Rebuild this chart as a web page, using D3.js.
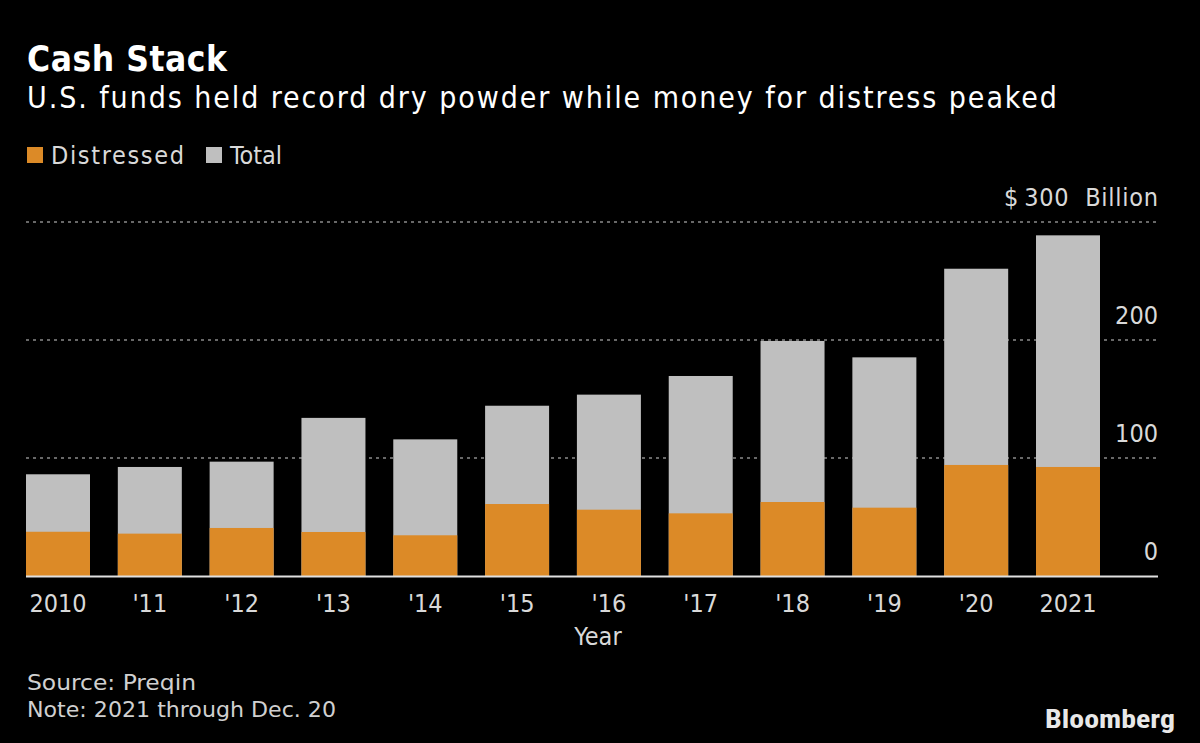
<!DOCTYPE html>
<html><head><meta charset="utf-8">
<script src="https://cdn.jsdelivr.net/npm/d3@7"></script>
<style>
html,body{margin:0;padding:0;background:#000;}
svg{display:block;}
text{font-family:"DejaVu Sans Condensed","DejaVu Sans",sans-serif;font-stretch:condensed;}
</style></head>
<body>
<svg id="chart" width="1200" height="743"></svg>
<script>
const categories = ["2010","'11","'12","'13","'14","'15","'16","'17","'18","'19","'20","2021"];
const totalValues = [86.2, 92.4, 96.9, 134, 115.8, 144.3, 153.7, 169.5, 199.2, 185.3, 260.4, 288.7];
const distressedValues = [37.5, 35.9, 40.7, 37.3, 34.5, 61, 56.2, 53.1, 62.7, 57.9, 94.1, 92.4];
const yTicks = [0, 100, 200, 300];
const seriesNames = ["Distressed", "Total"];
const seriesColors = ["#DC8A27", "#BFBFBF"];

const svg = d3.select("#chart");
svg.append("rect").attr("width",1200).attr("height",743).attr("fill","#000");

const x = d3.scaleBand().domain(categories).range([26, 1100]).paddingInner(0.303).paddingOuter(0);
const y = d3.scaleLinear().domain([0, 300]).range([576, 222]);

// Title
svg.append("text").attr("x",27).attr("y",71).attr("fill","#fff")
  .attr("font-size",35).attr("font-weight","bold")
  .attr("textLength",200).attr("lengthAdjust","spacing").text("Cash Stack");
svg.append("text").attr("x",27).attr("y",108).attr("fill","#fff")
  .attr("font-size",30).attr("textLength",1030).attr("lengthAdjust","spacing")
  .text("U.S. funds held record dry powder while money for distress peaked");

// Legend
const legendLens = [133, 52];
const leg = svg.append("g");
let lx = 27;
seriesNames.forEach((n,i)=>{
  leg.append("rect").attr("x",lx).attr("y",147).attr("width",16).attr("height",16).attr("fill",seriesColors[i]);
  leg.append("text").attr("x",lx+24).attr("y",164).attr("fill","#d9d9d9").attr("font-size",25)
    .attr("textLength",legendLens[i]).attr("lengthAdjust","spacing").text(n);
  lx += 24 + legendLens[i] + 22;
});

// Gridlines
const grid = svg.append("g");
yTicks.filter(d=>d>0).forEach(d=>{
  grid.append("line").attr("x1",26).attr("x2",1158).attr("y1",y(d)).attr("y2",y(d))
    .attr("stroke","#8a8a8a").attr("stroke-width",1.3).attr("stroke-dasharray","3,4");
});

// Bars
svg.append("g").selectAll("rect").data(categories).join("rect")
  .attr("x",d=>x(d)).attr("width",x.bandwidth())
  .attr("y",(d,i)=>y(totalValues[i])).attr("height",(d,i)=>y(0)-y(totalValues[i]))
  .attr("fill",seriesColors[1]);
svg.append("g").selectAll("rect").data(categories).join("rect")
  .attr("x",d=>x(d)).attr("width",x.bandwidth())
  .attr("y",(d,i)=>y(distressedValues[i])).attr("height",(d,i)=>y(0)-y(distressedValues[i]))
  .attr("fill",seriesColors[0]);

// Baseline
svg.append("line").attr("x1",26).attr("x2",1158).attr("y1",y(0)+0.5).attr("y2",y(0)+0.5)
  .attr("stroke","#e0e0e0").attr("stroke-width",2);

// Y labels
const yAxis = d3.axisRight(y).tickValues(yTicks).tickSize(0)
  .tickFormat(d=> d===300 ? "$\u2009300  Billion" : d);
const ya = svg.append("g").attr("transform","translate(1158,0)").call(yAxis);
ya.select(".domain").remove();
ya.selectAll("text").attr("x",0).attr("dy",0).attr("text-anchor","end")
  .attr("transform","translate(0,-17)")
  .attr("fill","#d9d9d9").attr("font-size",25)
  .style("font-family",'"DejaVu Sans Condensed","DejaVu Sans",sans-serif')
  .style("white-space","pre")
  .each(function(d){ if(d===300){ d3.select(this).attr("textLength",154).attr("lengthAdjust","spacing"); } });

// X labels
const xAxis = d3.axisBottom(x).tickSize(0).tickPadding(0);
const xa = svg.append("g").attr("transform","translate(0,"+y(0)+")").call(xAxis);
xa.select(".domain").remove();
xa.selectAll("text").attr("y",36).attr("dy",0).attr("fill","#d9d9d9").attr("font-size",25)
  .style("font-family",'"DejaVu Sans Condensed","DejaVu Sans",sans-serif');

svg.append("text").attr("x",598).attr("y",645).attr("text-anchor","middle")
  .attr("fill","#d9d9d9").attr("font-size",25).text("Year");

// Footer
svg.append("text").attr("x",27).attr("y",690).attr("fill","#d0d0d0").attr("font-size",22)
  .attr("textLength",169).attr("lengthAdjust","spacingAndGlyphs").text("Source: Preqin");
svg.append("text").attr("x",27).attr("y",717).attr("fill","#d0d0d0").attr("font-size",22)
  .attr("textLength",309).attr("lengthAdjust","spacingAndGlyphs").text("Note: 2021 through Dec. 20");
svg.append("text").attr("x",1045).attr("y",728).attr("fill","#e8e8e8")
  .attr("font-size",25).attr("font-weight","bold")
  .attr("textLength",130).attr("lengthAdjust","spacingAndGlyphs")
  .style("font-family",'"Liberation Sans Narrow","Roboto","Liberation Sans",sans-serif').text("Bloomberg");
</script>
</body></html>
